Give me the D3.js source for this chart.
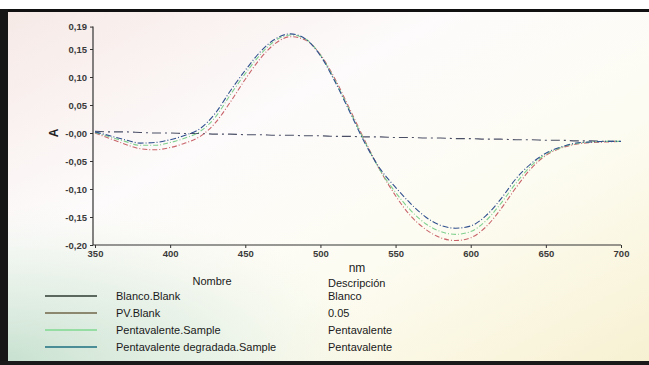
<!DOCTYPE html>
<html>
<head>
<meta charset="utf-8">
<script src="https://cdn.jsdelivr.net/npm/d3@7"></script>
<style>
  html, body { margin: 0; padding: 0; background: #fff; }
  svg { display: block; font-family: "Liberation Sans", Arial, sans-serif; }
</style>
</head>
<body>
<div id="chart"></div>
<script>
// wavelengths (nm), one reading every 10 nm
const wavelengths = [350, 360, 370, 380, 390, 400, 410, 420, 430, 440, 450, 460, 470, 480, 490, 500, 510, 520,
  530, 540, 550, 560, 570, 580, 590, 600, 610, 620, 630, 640, 650, 660, 670, 680, 690, 700];

// absorbance values
const blancoBlank = [0.003, 0.002, 0.002, 0.001, 0.000, 0.000, -0.001, -0.001, -0.002, -0.002, -0.003, -0.003,
  -0.004, -0.004, -0.005, -0.005, -0.006, -0.006, -0.007, -0.007, -0.008, -0.008, -0.009, -0.009, -0.010, -0.010,
  -0.011, -0.011, -0.012, -0.012, -0.013, -0.013, -0.014, -0.014, -0.015, -0.015];
const pvBlank = [0.000, -0.010, -0.020, -0.028, -0.030, -0.026, -0.018, -0.006, 0.018, 0.055, 0.096, 0.133,
  0.160, 0.172, 0.166, 0.140, 0.095, 0.040, -0.016, -0.068, -0.112, -0.148, -0.172, -0.187, -0.192, -0.187,
  -0.168, -0.136, -0.098, -0.064, -0.040, -0.027, -0.020, -0.017, -0.016, -0.015];
const pentavalenteSample = [0.001, -0.007, -0.015, -0.022, -0.022, -0.017, -0.009, 0.003, 0.028, 0.068, 0.106,
  0.140, 0.165, 0.175, 0.168, 0.139, 0.092, 0.037, -0.018, -0.068, -0.106, -0.138, -0.162, -0.176, -0.181,
  -0.176, -0.157, -0.126, -0.090, -0.059, -0.038, -0.026, -0.019, -0.016, -0.015, -0.015];
const degradadaSample = [0.002, -0.005, -0.012, -0.018, -0.017, -0.012, -0.004, 0.008, 0.035, 0.075, 0.112,
  0.145, 0.168, 0.177, 0.168, 0.138, 0.090, 0.035, -0.020, -0.065, -0.097, -0.126, -0.150, -0.165, -0.170,
  -0.166, -0.148, -0.118, -0.082, -0.055, -0.036, -0.025, -0.018, -0.016, -0.015, -0.015];

const xTicks = [350, 400, 450, 500, 550, 600, 650, 700];
const yTicks = [0.19, 0.15, 0.10, 0.05, 0.00, -0.05, -0.10, -0.15, -0.20];
const yTickLabels = ["0,19", "0,15", "0,10", "0,05", "-0,00", "-0,05", "-0,10", "-0,15", "-0,20"];

const seriesNames = ["Blanco.Blank", "PV.Blank", "Pentavalente.Sample", "Pentavalente degradada.Sample"];
const seriesDesc = ["Blanco", "0.05", "Pentavalente", "Pentavalente"];

const series = [
  { values: blancoBlank, plot: "#4a4f66", key: "#2d3b30", dash: "9,4,2,4" },
  { values: pvBlank, plot: "#c8646a", key: "#6f6648", dash: "5,2,1,2" },
  { values: pentavalenteSample, plot: "#7fd08e", key: "#7fd890", dash: "5,2,1,2" },
  { values: degradadaSample, plot: "#30508e", key: "#1d6f80", dash: "6,2,1,2" }
];

const width = 649, height = 365;

const svg = d3.select("#chart").append("svg")
  .attr("width", width)
  .attr("height", height);

// background glow of the photographed screen
const defs = svg.append("defs");
const grad = defs.append("linearGradient")
  .attr("id", "screen")
  .attr("x1", "0").attr("y1", "0").attr("x2", "1").attr("y2", "1");
grad.append("stop").attr("offset", "0%").attr("stop-color", "#f6e9e6");
grad.append("stop").attr("offset", "35%").attr("stop-color", "#fdfbfb");
grad.append("stop").attr("offset", "65%").attr("stop-color", "#fdfcf2");
grad.append("stop").attr("offset", "100%").attr("stop-color", "#f7f1d2");

// greenish tint toward the lower left corner
const glow = defs.append("radialGradient")
  .attr("id", "greenish")
  .attr("cx", "0").attr("cy", "1").attr("r", "0.75");
glow.append("stop").attr("offset", "0%").attr("stop-color", "#c6e0cf").attr("stop-opacity", 1);
glow.append("stop").attr("offset", "55%").attr("stop-color", "#dcece0").attr("stop-opacity", 0.6);
glow.append("stop").attr("offset", "100%").attr("stop-color", "#eef5ea").attr("stop-opacity", 0);

svg.append("rect").attr("x", 0).attr("y", 0).attr("width", width).attr("height", height).attr("fill", "#fff");
svg.append("rect").attr("x", 0).attr("y", 10).attr("width", width).attr("height", 352).attr("fill", "url(#screen)");
svg.append("rect").attr("x", 0).attr("y", 150).attr("width", 520).attr("height", 212).attr("fill", "url(#greenish)");

// frame of the monitor
svg.append("rect").attr("x", 0).attr("y", 9).attr("width", width).attr("height", 3).attr("fill", "#111");
svg.append("rect").attr("x", 0).attr("y", 9).attr("width", 8).attr("height", height - 9).attr("fill", "#161616");
svg.append("rect").attr("x", 0).attr("y", 361).attr("width", width).attr("height", 4).attr("fill", "#1a1a1a");

const x = d3.scaleLinear().domain([350, 700]).range([95, 621]);
const y = d3.scaleLinear().domain([-0.20, 0.15]).range([245, 49]);

// axes
const xAxis = svg.append("g")
  .attr("transform", `translate(0,${y(-0.20)})`)
  .call(d3.axisBottom(x).tickValues(xTicks).tickSize(3).tickSizeOuter(0).tickFormat(d3.format("d")));
const yAxis = svg.append("g")
  .attr("transform", `translate(${x(350) - 2},0)`)
  .call(d3.axisLeft(y).tickValues(yTicks).tickSize(3).tickSizeOuter(0)
    .tickFormat((d, i) => yTickLabels[i]));

[xAxis, yAxis].forEach(a => {
  a.select(".domain").attr("stroke", "#333").attr("stroke-width", 1.2);
  a.selectAll(".tick line").attr("stroke", "#333");
  a.selectAll(".tick text")
    .attr("fill", "#3a3a3a")
    .style("font-size", "9.5px")
    .style("font-weight", "bold");
});
xAxis.selectAll(".tick text").attr("dy", "0.6em");
xAxis.select(".domain").attr("d", `M${x(350) - 2},0H${x(700)}`);
yAxis.select(".domain").attr("d", `M0,${y(0.19)}V${y(-0.20)}`);

// axis titles
svg.append("text")
  .attr("transform", `translate(54,${y(0)}) rotate(-90)`)
  .attr("text-anchor", "middle")
  .attr("dy", "0.35em")
  .style("font-size", "12px")
  .style("font-weight", "bold")
  .attr("fill", "#222")
  .text("A");

svg.append("text")
  .attr("x", 357).attr("y", 272)
  .attr("text-anchor", "middle")
  .style("font-size", "12px")
  .attr("fill", "#222")
  .text("nm");

// curves
const line = d3.line()
  .x((d, i) => x(wavelengths[i]))
  .y(d => y(d))
  .curve(d3.curveMonotoneX);

svg.append("g")
  .attr("fill", "none")
  .selectAll("path")
  .data(series)
  .join("path")
  .attr("stroke", d => d.plot)
  .attr("stroke-width", 1.1)
  .attr("stroke-dasharray", d => d.dash)
  .attr("d", d => line(d.values));

// legend table
const legend = svg.append("g")
  .style("font-size", "11px")
  .attr("fill", "#1a1a1a");

legend.append("text").attr("x", 212).attr("y", 285).attr("text-anchor", "middle").text("Nombre");
legend.append("text").attr("x", 328).attr("y", 287).text("Descripción");

const rowY = d3.scalePoint().domain(d3.range(seriesNames.length)).range([296, 347]);

const rows = legend.selectAll("g.row")
  .data(series)
  .join("g")
  .attr("class", "row")
  .attr("transform", (d, i) => `translate(0,${rowY(i)})`);

rows.append("line")
  .attr("x1", 45).attr("x2", 97)
  .attr("stroke", d => d.key)
  .attr("stroke-width", 1.6);
rows.append("text")
  .attr("x", 116).attr("dy", "0.35em")
  .text((d, i) => seriesNames[i]);
rows.append("text")
  .attr("x", 328).attr("dy", "0.35em")
  .text((d, i) => seriesDesc[i]);
</script>
</body>
</html>
